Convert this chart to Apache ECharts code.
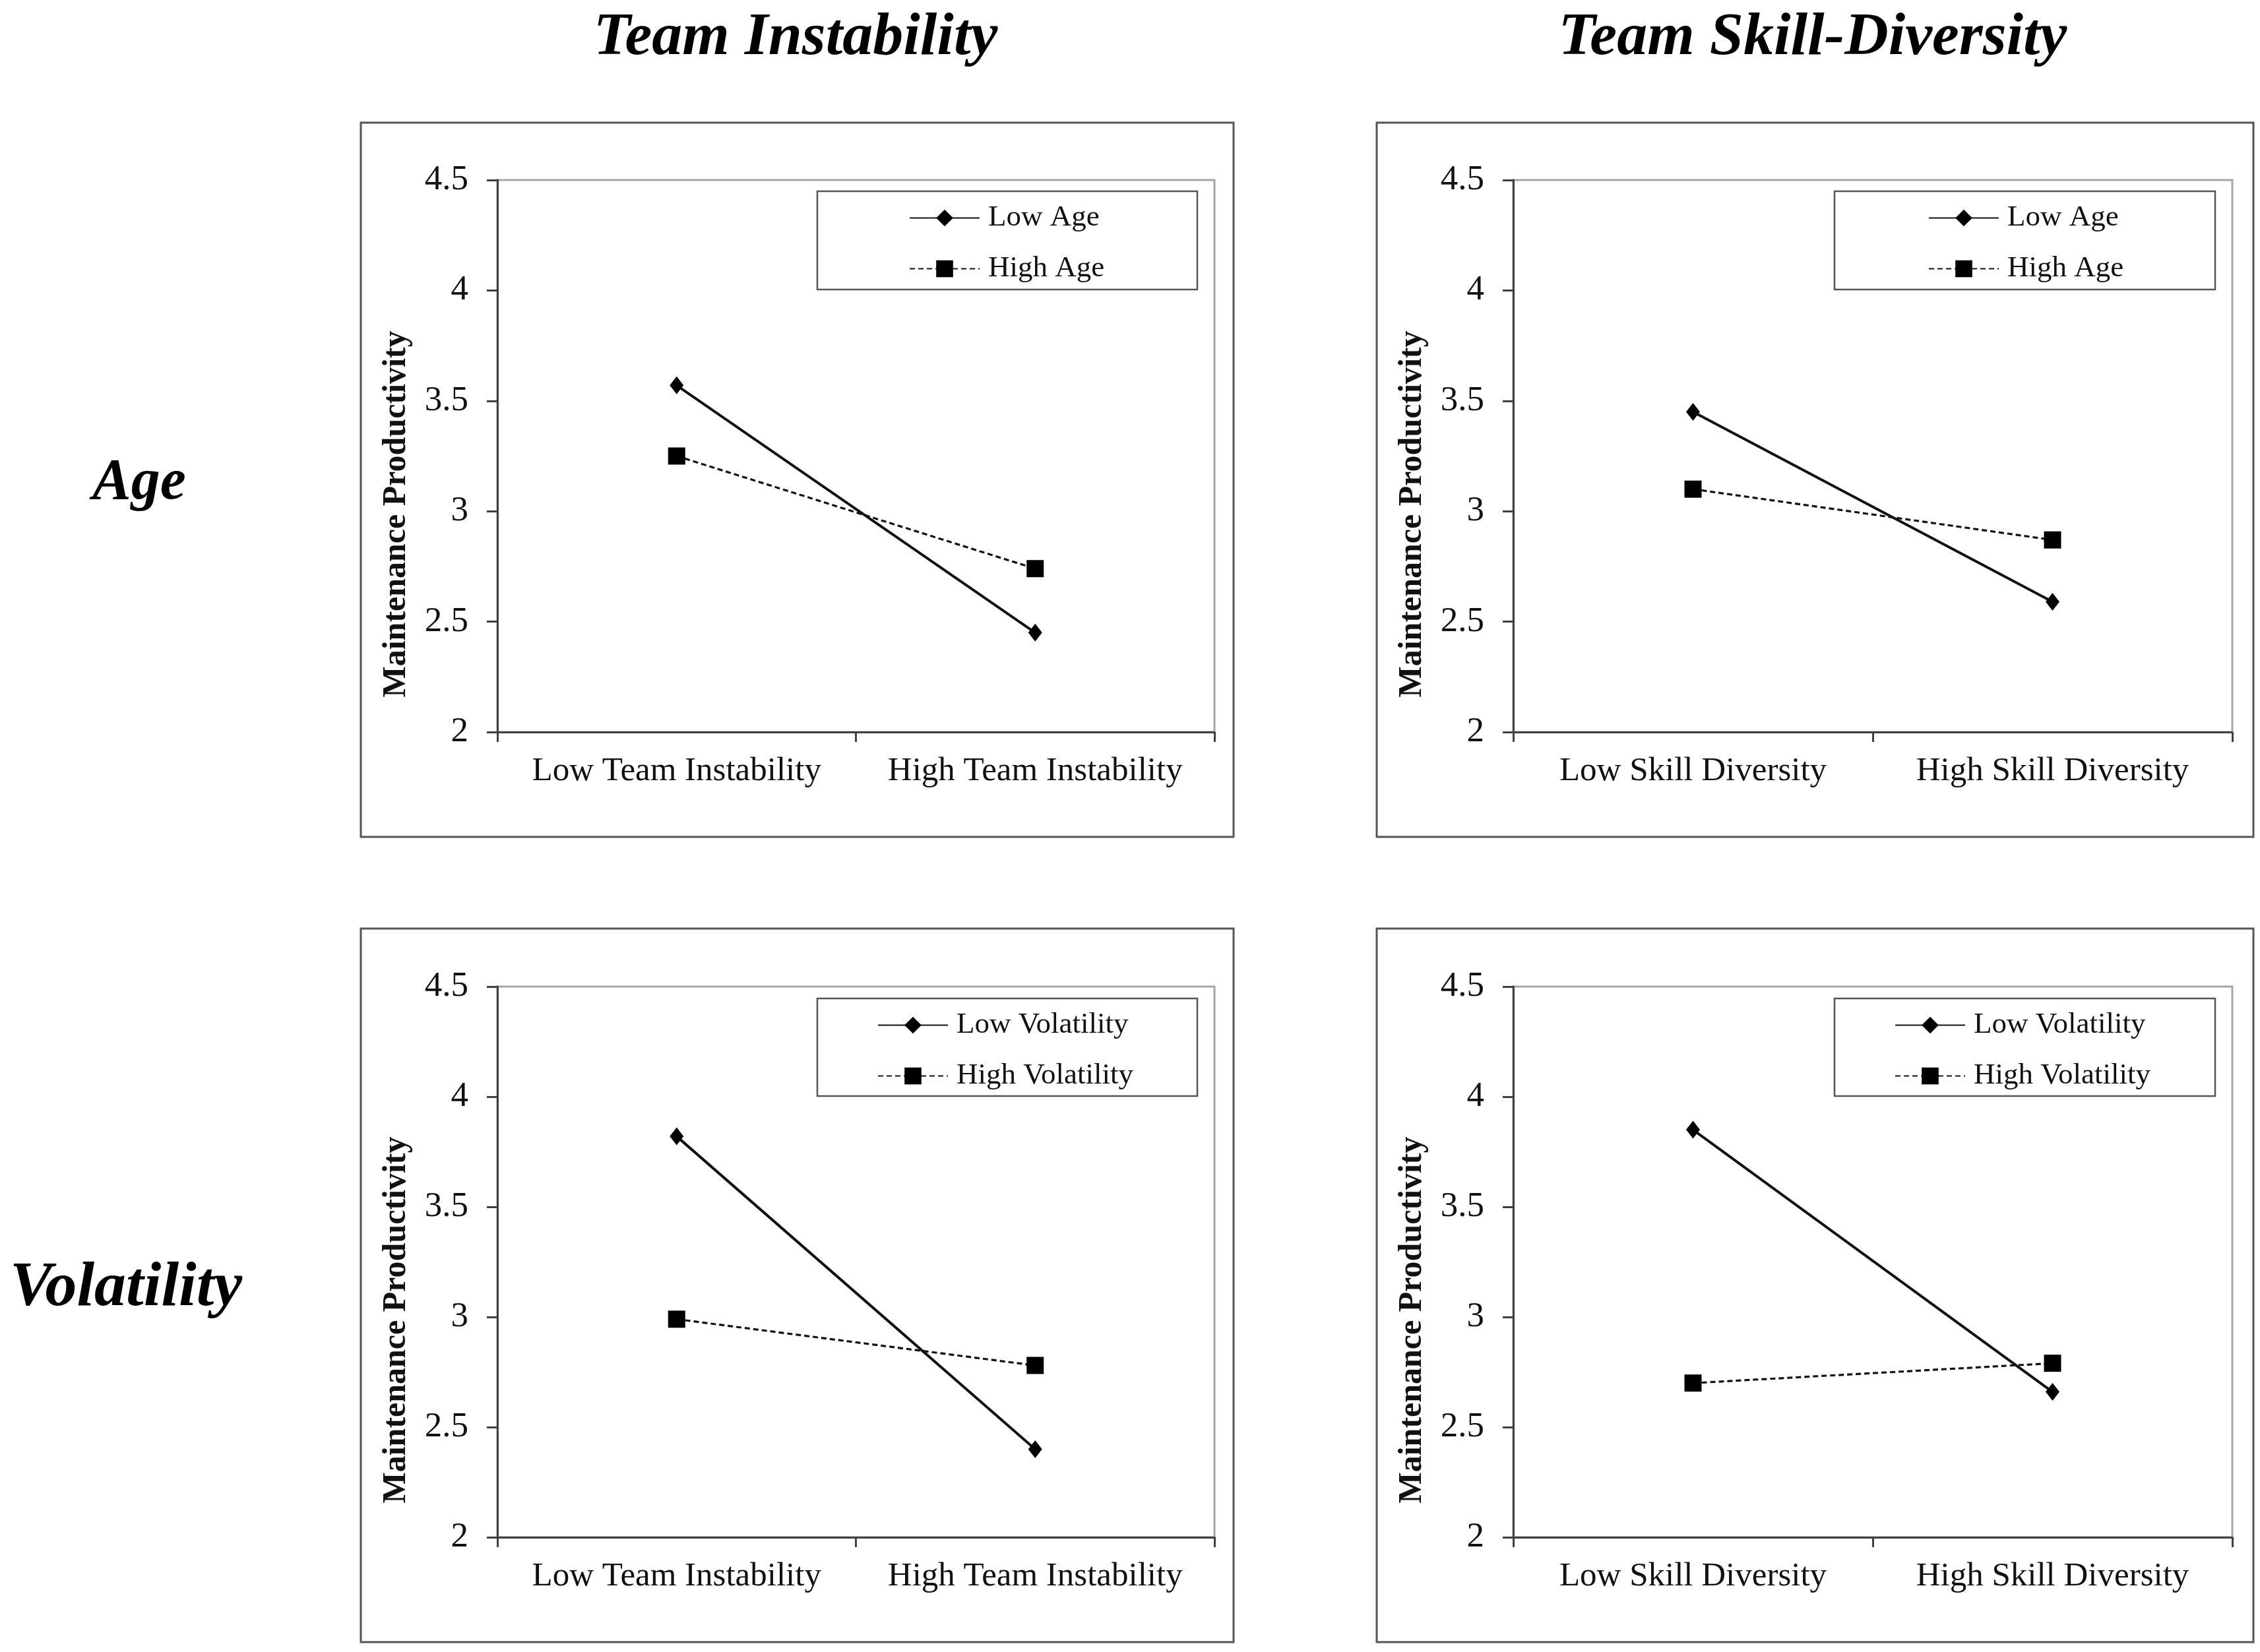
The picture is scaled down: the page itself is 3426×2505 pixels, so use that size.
<!DOCTYPE html>
<html>
<head>
<meta charset="utf-8">
<script src="https://cdn.jsdelivr.net/npm/echarts@6/dist/echarts.min.js"></script>
<style>
  html, body { margin: 0; padding: 0; background: #fff; }
  #chart { width: 3426px; height: 2505px; }
</style>
</head>
<body>
<div id="chart"></div>
<script>
// headings
const colTitles = ['Team Instability', 'Team Skill-Diversity'];
const rowTitles = ['Age', 'Volatility'];
const yName = 'Maintenance Productivity';

// categories
const instabilityCats = ['Low Team Instability', 'High Team Instability'];
const diversityCats = ['Low Skill Diversity', 'High Skill Diversity'];

// legend names
const ageNames = ['Low Age', 'High Age'];
const volNames = ['Low Volatility', 'High Volatility'];

// y axis ticks
const yMin = 2;
const yMax = 4.5;
const yStep = 0.5;

// values
const lowAgeInstab = [3.57, 2.45];
const highAgeInstab = [3.25, 2.74];
const lowAgeDiv = [3.45, 2.59];
const highAgeDiv = [3.10, 2.87];
const lowVolInstab = [3.82, 2.40];
const highVolInstab = [2.99, 2.78];
const lowVolDiv = [3.85, 2.66];
const highVolDiv = [2.70, 2.79];

const serif = '"Liberation Serif", "Times New Roman", serif';
const axisColor = '#404040';

// panel layout (pixels)
const panels = [
  { cats: instabilityCats, names: ageNames, low: lowAgeInstab, high: highAgeInstab,
    grid: { left: 754, top: 273, width: 1087, height: 837 },
    box: [547, 186, 1323, 1083], legendBox: [1239, 290, 576, 149], legendPos: [1378, 308] },
  { cats: diversityCats, names: ageNames, low: lowAgeDiv, high: highAgeDiv,
    grid: { left: 2294, top: 273, width: 1090, height: 837 },
    box: [2087, 186, 1329, 1083], legendBox: [2781, 290, 577, 149], legendPos: [2923, 308] },
  { cats: instabilityCats, names: volNames, low: lowVolInstab, high: highVolInstab,
    grid: { left: 754, top: 1496, width: 1087, height: 835 },
    box: [547, 1408, 1323, 1082], legendBox: [1239, 1514, 576, 148], legendPos: [1330, 1532] },
  { cats: diversityCats, names: volNames, low: lowVolDiv, high: highVolDiv,
    grid: { left: 2294, top: 1496, width: 1090, height: 835 },
    box: [2087, 1408, 1329, 1082], legendBox: [2781, 1514, 577, 148], legendPos: [2872, 1532] }
];

let grid = [];
let xAxis = [];
let yAxis = [];
let series = [];
let legend = [];
let graphic = [];

panels.forEach(function (p, i) {
  grid.push(Object.assign({ show: true, borderColor: '#a6a6a6', borderWidth: 3, backgroundColor: '#fff' }, p.grid));
  xAxis.push({
    type: 'category',
    gridIndex: i,
    data: p.cats,
    boundaryGap: true,
    axisLine: { lineStyle: { color: axisColor, width: 3 } },
    axisTick: { show: true, interval: 0, length: 15, lineStyle: { color: axisColor, width: 3 } },
    axisLabel: { interval: 0, color: '#111', fontFamily: serif, fontSize: 51, margin: 34 },
    splitLine: { show: false }
  });
  yAxis.push({
    type: 'value',
    gridIndex: i,
    min: yMin,
    max: yMax,
    interval: yStep,
    name: yName,
    nameLocation: 'middle',
    nameGap: 128,
    nameTextStyle: { color: '#111', fontFamily: serif, fontWeight: 'bold', fontSize: 50, padding: [0, 176, 0, 0] },
    axisLine: { show: true, lineStyle: { color: axisColor, width: 3 } },
    axisTick: { show: true, length: 16, lineStyle: { color: axisColor, width: 3 } },
    axisLabel: { color: '#111', fontFamily: serif, fontSize: 53, margin: 44 },
    splitLine: { show: false }
  });
  series.push({
    name: p.names[0],
    type: 'line',
    xAxisIndex: i,
    yAxisIndex: i,
    data: p.low,
    symbol: 'diamond',
    symbolSize: [21, 27],
    lineStyle: { color: '#111', width: 4, type: 'solid' },
    itemStyle: { color: '#000' },
    z: 3
  });
  series.push({
    name: p.names[1],
    type: 'line',
    xAxisIndex: i,
    yAxisIndex: i,
    data: p.high,
    symbol: 'rect',
    symbolSize: 26,
    lineStyle: { color: '#111', width: 3.2, type: [8, 5] },
    itemStyle: { color: '#000' },
    z: 3
  });
  legend.push({
    data: p.names,
    orient: 'vertical',
    left: p.legendPos[0],
    top: p.legendPos[1],
    padding: 0,
    itemWidth: 106,
    itemHeight: 32,
    itemGap: 32,
    selectedMode: false,
    textStyle: { color: '#111', fontFamily: serif, fontSize: 45, lineHeight: 32, padding: [0, 0, 0, 8] }
  });
  // outer frame and legend frame
  graphic.push({
    type: 'rect', silent: true, z: -10,
    shape: { x: p.box[0], y: p.box[1], width: p.box[2], height: p.box[3] },
    style: { fill: 'none', stroke: '#555', lineWidth: 3 }
  });
  graphic.push({
    type: 'rect', silent: true, z: 10,
    shape: { x: p.legendBox[0], y: p.legendBox[1], width: p.legendBox[2], height: p.legendBox[3] },
    style: { fill: 'none', stroke: '#555', lineWidth: 2.5 }
  });
});

const headStyle = { fill: '#000', font: 'italic bold 92px ' + serif, textAlign: 'center', textVerticalAlign: 'middle' };
graphic.push({ type: 'text', x: 1206, y: 58, style: Object.assign({ text: colTitles[0] }, headStyle) });
graphic.push({ type: 'text', x: 2748, y: 58, style: Object.assign({ text: colTitles[1] }, headStyle) });
graphic.push({ type: 'text', x: 211, y: 733, style: Object.assign({ text: rowTitles[0] }, headStyle, { font: 'italic bold 88px ' + serif }) });
graphic.push({ type: 'text', x: 191, y: 1954, style: Object.assign({ text: rowTitles[1] }, headStyle, { font: 'italic bold 96px ' + serif }) });

let chart = echarts.init(document.getElementById('chart'));
chart.setOption({
  backgroundColor: '#fff',
  animation: false,
  grid: grid,
  xAxis: xAxis,
  yAxis: yAxis,
  legend: legend,
  series: series,
  graphic: graphic
});
</script>
</body>
</html>
